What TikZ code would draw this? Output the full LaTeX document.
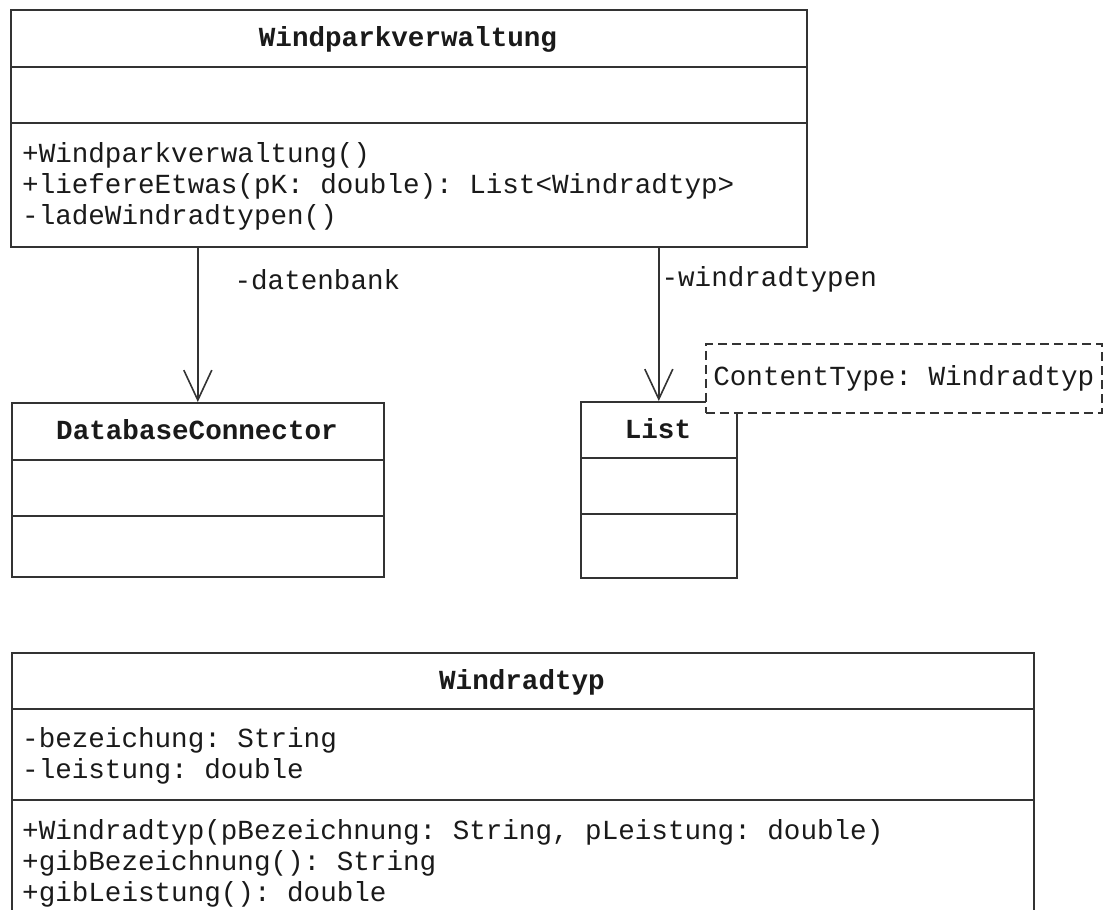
\documentclass[tikz,border=0pt]{standalone}
\usepackage{fontspec}
\setmonofont{Liberation Mono}
\usepackage{tikz}
\usetikzlibrary{arrows.meta}
\definecolor{umlline}{HTML}{333333}
\definecolor{umltext}{HTML}{1A1A1A}
\tikzset{font={\fontsize{27.6pt}{31pt}\selectfont\ttfamily}, text=umltext}
\tikzset{
  classbox/.style={draw=umlline, line width=1.6pt, fill=white, anchor=north west, inner sep=0pt},
  compart/.style={draw=umlline, line width=1.6pt},
  classname/.style={anchor=base, inner sep=0pt, font={\fontsize{27.6pt}{31pt}\selectfont\ttfamily\bfseries}},
  member/.style={anchor=base west, inner sep=0pt},
  rolename/.style={anchor=west, inner sep=0pt},
  assoc/.style={draw=umlline, line width=1.6pt, -{Straight Barb[length=30pt,width=28pt]}},
  typeparam/.style={draw=umlline, line width=1.6pt, dash pattern=on 9pt off 5pt, fill=white,
    anchor=north west, inner sep=0pt, minimum width=396pt, minimum height=69pt}
}

\begin{document}
\begin{tikzpicture}[x=1pt, y=-1pt]
  \useasboundingbox (0,0) rectangle (1104,910);
  \clip (0,0) rectangle (1104,910);
  %Windparkverwaltung
  \node[classbox, minimum width=796pt, minimum height=237pt] (wpv) at (10,9) {};
  \draw[compart] (10,67) -- (806,67);
  \draw[compart] (10,123) -- (806,123);
  \node[classname] (wpv-name) at (408,46) {Windparkverwaltung};
  \foreach \op [count=\i] in {+Windparkverwaltung(), {+liefereEtwas(pK: double): List<Windradtyp>}, -ladeWindradtypen()}
    \node[member] (wpv-op\i) at (22,131+31*\i) {\op};
  %DatabaseConnector
  \node[classbox, minimum width=372pt, minimum height=174pt] (dbc) at (11,402) {};
  \draw[compart] (11,460) -- (383,460);
  \draw[compart] (11,516) -- (383,516);
  \node[classname] (dbc-name) at (197,439) {DatabaseConnector};
  %List with its type parameter
  \node[classbox, minimum width=156pt, minimum height=176pt] (list) at (580,401) {};
  \draw[compart] (580,458) -- (736,458);
  \draw[compart] (580,514) -- (736,514);
  \node[classname] (list-name) at (658,438) {List};
  \node[typeparam] (list-param) at (705,343) {ContentType: Windradtyp};
  %Windradtyp
  \node[classbox, minimum width=1022pt, minimum height=280pt] (wrt) at (11,652) {};
  \draw[compart] (11,709) -- (1033,709);
  \draw[compart] (11,800) -- (1033,800);
  \node[classname] (wrt-name) at (522,689) {Windradtyp};
  \foreach \attr [count=\i] in {{-bezeichung: String}, {-leistung: double}}
    \node[member] (wrt-attr\i) at (22,716+31*\i) {\attr};
  \foreach \op [count=\i] in {{+Windradtyp(pBezeichnung: String, pLeistung: double)}, {+gibBezeichnung(): String}, {+gibLeistung(): double}}
    \node[member] (wrt-op\i) at (22,808+31*\i) {\op};
  %associations
  \draw[assoc] (wpv.south -| dbc.north) -- node[rolename, pos=0.21, xshift=36pt] (role-db) {-datenbank} (dbc.north);
  \draw[assoc] (wpv.south -| list.north) -- node[rolename, pos=0.21, xshift=2pt] (role-list) {-windradtypen} (list.north);
\end{tikzpicture}
\end{document}
